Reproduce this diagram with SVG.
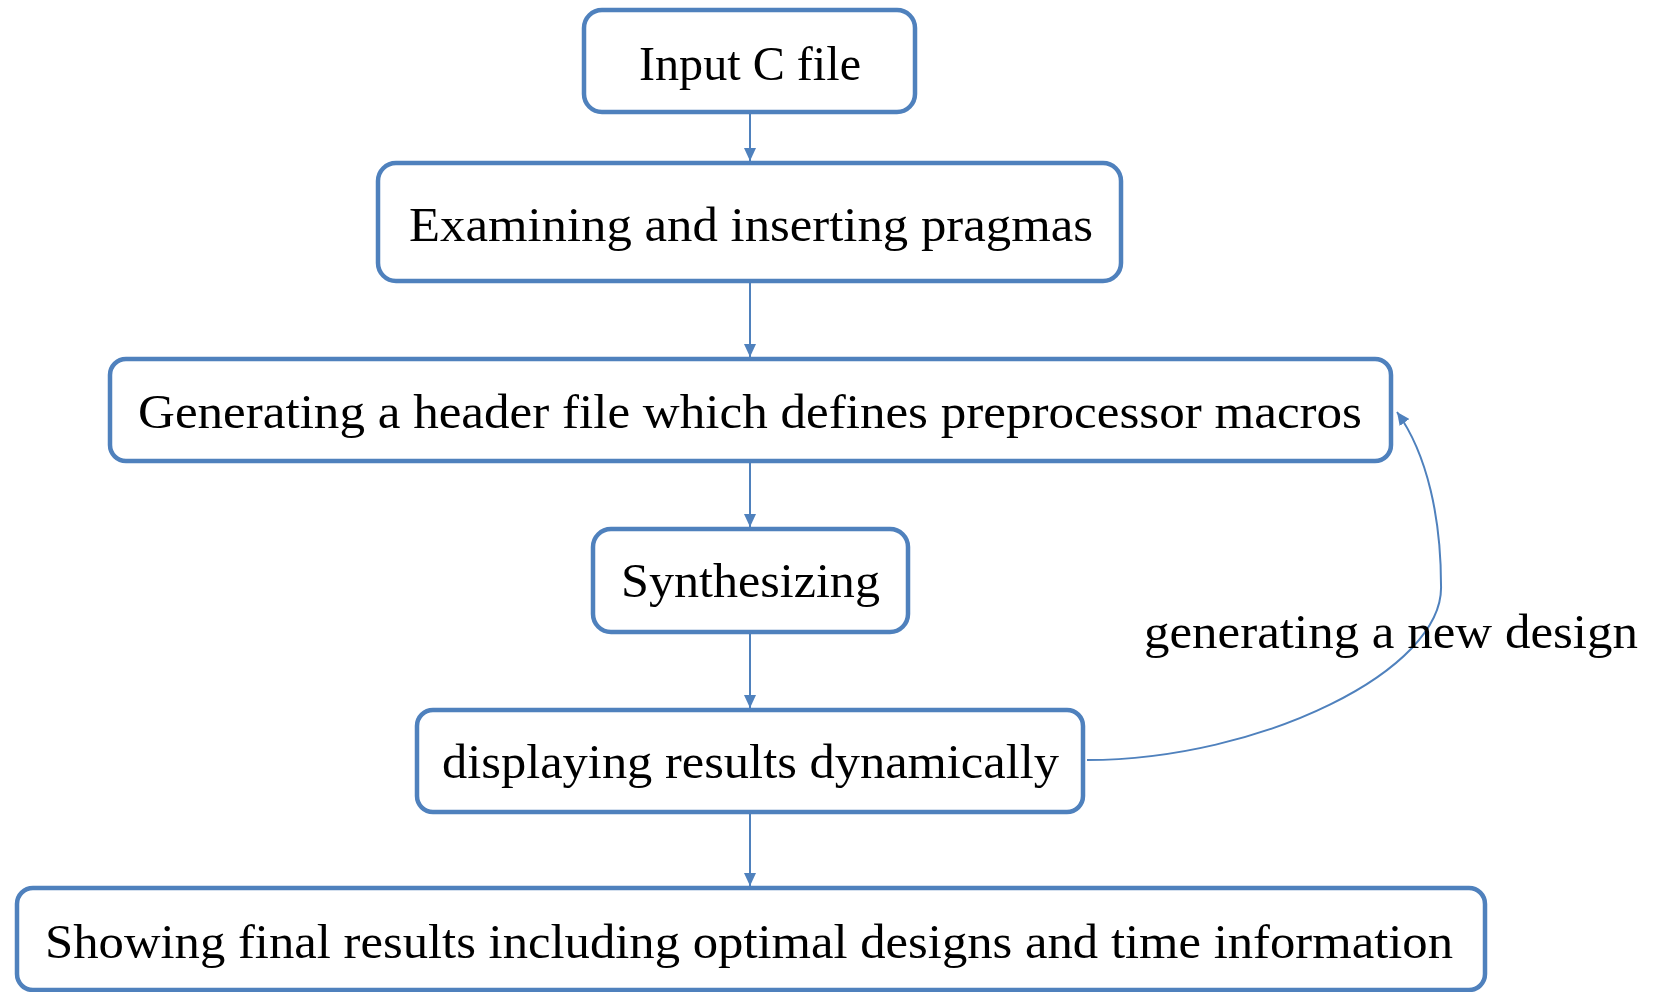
<svg xmlns="http://www.w3.org/2000/svg" width="1657" height="992" viewBox="0 0 1657 992">
<defs>
<style>
.box{fill:#fff;stroke:#4F81BD;stroke-width:4.5}
.lbl{font-family:"Liberation Serif","DejaVu Serif",serif;font-size:48px;fill:#000}
.con{fill:none;stroke:#4F81BD;stroke-width:2}
</style>
<marker id="ah" markerUnits="userSpaceOnUse" markerWidth="13" markerHeight="12" refX="13" refY="6" orient="auto" viewBox="0 0 13 12">
<path d="M0,0 L13,6 L0,12 z" fill="#4F81BD"/>
</marker>
</defs>
<rect width="1657" height="992" fill="#fff"/>
<g id="connectors">
<line class="con" x1="750" y1="114" x2="750" y2="161" marker-end="url(#ah)"/>
<line class="con" x1="750" y1="283" x2="750" y2="357" marker-end="url(#ah)"/>
<line class="con" x1="750" y1="463" x2="750" y2="527" marker-end="url(#ah)"/>
<line class="con" x1="750" y1="634" x2="750" y2="708" marker-end="url(#ah)"/>
<line class="con" x1="750" y1="814" x2="750" y2="886" marker-end="url(#ah)"/>
<path class="con" d="M1087,760 C1260,760 1445,670 1441,585 C1441,520 1428,455 1397,412" marker-end="url(#ah)"/>
<text class="lbl" x="1144" y="648" textLength="494" lengthAdjust="spacingAndGlyphs">generating a new design</text>
</g>
<g id="n1">
<rect class="box" x="584" y="10" width="331" height="102" rx="18"/>
<text class="lbl" x="639" y="80" textLength="222" lengthAdjust="spacingAndGlyphs">Input C file</text>
</g>
<g id="n2">
<rect class="box" x="378" y="163" width="743" height="118" rx="18"/>
<text class="lbl" x="409" y="241" textLength="684" lengthAdjust="spacingAndGlyphs">Examining and inserting pragmas</text>
</g>
<g id="n3">
<rect class="box" x="110" y="359" width="1281" height="102" rx="16"/>
<text class="lbl" x="138" y="428" textLength="1224" lengthAdjust="spacingAndGlyphs">Generating a header file which defines preprocessor macros</text>
</g>
<g id="n4">
<rect class="box" x="593" y="529" width="315" height="103" rx="18"/>
<text class="lbl" x="621" y="597" textLength="259" lengthAdjust="spacingAndGlyphs">Synthesizing</text>
</g>
<g id="n5">
<rect class="box" x="417" y="710" width="666" height="102" rx="16"/>
<text class="lbl" x="442" y="778" textLength="617" lengthAdjust="spacingAndGlyphs">displaying results dynamically</text>
</g>
<g id="n6">
<rect class="box" x="17" y="888" width="1468" height="102" rx="16"/>
<text class="lbl" x="45" y="958" textLength="1408" lengthAdjust="spacingAndGlyphs">Showing final results including optimal designs and time information</text>
</g>
</svg>
